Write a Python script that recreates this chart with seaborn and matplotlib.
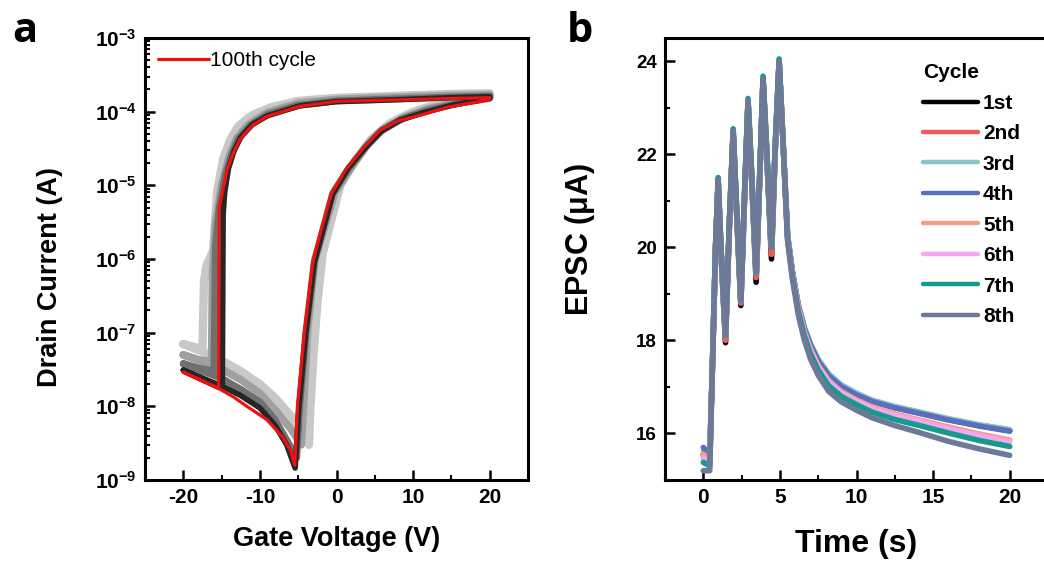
import numpy as np
import matplotlib
matplotlib.use("Agg")
import matplotlib.pyplot as plt
import seaborn as sns
from matplotlib.ticker import MultipleLocator, LogLocator, NullFormatter
from matplotlib.lines import Line2D

# ---------------- panel a: transfer curves (V, A) ----------------
# each loop: forward sweep -20 -> 20, then backward 20 -> -20
v_light = [-20, -17.5, -15, -12.5, -10, -8, -6, -4.5, -3.6, -3.4, -3.0, -2.5, -1.8, 0.5, 2.5, 4.5, 7, 10, 13, 16.5, 20,
           20, 15, 10, 5, 0, -5, -8.5, -11, -12.8, -13.8, -14.8, -15.6, -16.1, -17.0, -17.3, -17.5, -20]
i_light = [7e-8, 5.5e-8, 4.2e-8, 3e-8, 2e-8, 1.3e-8, 7.5e-9, 4.5e-9, 3e-9, 1e-8, 5e-8, 2.5e-7, 1.2e-6, 1e-5, 2.2e-5, 4.2e-5, 7e-5, 1e-4, 1.25e-4, 1.45e-4, 1.6e-4,
           1.78e-4, 1.74e-4, 1.67e-4, 1.6e-4, 1.54e-4, 1.4e-4, 1.15e-4, 9e-5, 6.4e-5, 4.3e-5, 2.3e-5, 8e-6, 1.3e-6, 8e-7, 5e-7, 6e-8, 7e-8]

v_mid1 = [-20, -17.5, -15, -12.5, -10, -8, -6, -4.6, -4.3, -3.8, -2.8, -0.2, 2, 4, 6, 9, 12, 16, 20,
          20, 15, 10, 5, 0, -5, -9, -11.5, -13, -14, -15, -15.8, -16.2, -16.3, -18, -20]
i_mid1 = [5e-8, 4e-8, 3.2e-8, 2.3e-8, 1.5e-8, 9e-9, 5e-9, 3e-9, 1e-8, 1e-7, 1e-6, 8e-6, 1.8e-5, 3.5e-5, 5.7e-5, 8.5e-5, 1.1e-4, 1.35e-4, 1.55e-4,
          1.7e-4, 1.66e-4, 1.6e-4, 1.54e-4, 1.47e-4, 1.3e-4, 9.8e-5, 6.7e-5, 4.4e-5, 2.5e-5, 1e-5, 3e-6, 6e-7, 4e-8, 4.3e-8, 5e-8]

v_mid2 = [-20, -17.5, -15, -12.5, -10, -8, -6.5, -5.2, -4.8, -4.0, -2.9, -0.5, 1.6, 3.8, 5.8, 8.5, 12, 16, 20,
          20, 15, 10, 5, 0, -5, -9, -11.2, -12.8, -13.7, -14.5, -15.3, -15.8, -16.0, -18, -20]
i_mid2 = [3.8e-8, 3e-8, 2.4e-8, 1.7e-8, 1.15e-8, 6.5e-9, 3.5e-9, 2e-9, 1e-8, 1e-7, 9e-7, 7.8e-6, 1.7e-5, 3.3e-5, 5.5e-5, 8e-5, 1.05e-4, 1.3e-4, 1.52e-4,
          1.63e-4, 1.58e-4, 1.52e-4, 1.46e-4, 1.4e-4, 1.22e-4, 9.2e-5, 6.6e-5, 4.3e-5, 2.6e-5, 1.4e-5, 5e-6, 1.5e-6, 3e-8, 3.3e-8, 3.8e-8]

v_dark = [-20, -17.5, -15, -12.5, -10, -8, -6.5, -5.4, -4.9, -4.0, -2.9, -0.5, 1.5, 3.7, 5.8, 8.2, 11.2, 15, 18.5, 20,
          20, 15, 10, 5, 0, -4.8, -9, -11, -12.5, -13.4, -14.1, -14.6, -14.8, -14.9, -17.5, -20]
i_dark = [3.1e-8, 2.4e-8, 1.9e-8, 1.4e-8, 9.5e-9, 5.5e-9, 3e-9, 1.45e-9, 1e-8, 1e-7, 9e-7, 7.6e-6, 1.7e-5, 3.2e-5, 5.4e-5, 7.6e-5, 9.6e-5, 1.22e-4, 1.42e-4, 1.52e-4,
          1.6e-4, 1.55e-4, 1.48e-4, 1.42e-4, 1.37e-4, 1.2e-4, 8.8e-5, 6.7e-5, 4.5e-5, 2.9e-5, 1.7e-5, 8e-6, 4e-6, 1.8e-8, 2.4e-8, 3.1e-8]

v_100 = [-20, -17.5, -15.4, -13.5, -11.7, -9.1, -7, -6, -5.45, -5.1, -4.2, -3.1, -2, -0.7, 1.3, 3.5, 5.7, 8, 11.2, 14.5, 18.5, 20,
         20, 15, 10, 5, 0, -4.8, -9.1, -11, -12.6, -13.5, -14.3, -14.9, -15.3, -15.4, -17.5, -20]
i_100 = [2.9e-8, 2.2e-8, 1.75e-8, 1.35e-8, 1e-8, 6.6e-9, 3.8e-9, 2.5e-9, 1.6e-9, 1e-8, 1e-7, 9e-7, 2.5e-6, 7.6e-6, 1.7e-5, 3.2e-5, 5.6e-5, 7.5e-5, 9.1e-5, 1.15e-4, 1.36e-4, 1.48e-4,
         1.55e-4, 1.51e-4, 1.46e-4, 1.42e-4, 1.38e-4, 1.18e-4, 8.6e-5, 6.5e-5, 4.2e-5, 2.7e-5, 1.6e-5, 8e-6, 5e-6, 1.75e-8, 2.2e-8, 2.9e-8]

gray_loops = [(v_light, i_light), (v_mid1, i_mid1), (v_mid2, i_mid2), (v_dark, i_dark)]
gray_colors = ['#c8c8c8', '#a0a0a0', '#707070', '#262626']
gray_widths = [6.0, 5.5, 5.0, 4.0]

a_yticks = [1e-9, 1e-8, 1e-7, 1e-6, 1e-5, 1e-4, 1e-3]
a_yticklabels = [r'$\mathbf{10^{-9}}$', r'$\mathbf{10^{-8}}$', r'$\mathbf{10^{-7}}$', r'$\mathbf{10^{-6}}$',
                 r'$\mathbf{10^{-5}}$', r'$\mathbf{10^{-4}}$', r'$\mathbf{10^{-3}}$']
a_xticks = [-20, -10, 0, 10, 20]

# ---------------- panel b: EPSC vs time ----------------
t = [0, 0.42, 0.6, 0.8, 0.97, 1.15, 1.45, 1.7, 1.95, 2.15, 2.45, 2.7, 2.92, 3.15, 3.45, 3.7, 3.9, 4.15, 4.45, 4.7, 4.95,
     5.2, 5.5, 5.8, 6.2, 6.6, 7.0, 7.5, 8.2, 9, 10, 11, 12.5, 14, 16, 18, 20]

epsc_1 = [15.55, 15.45, 17.5, 20.0, 21.4, 19.9, 17.95, 20.4, 22.45, 20.9, 18.75, 21.1, 23.1, 21.5, 19.25, 21.6, 23.6, 21.9, 19.75, 22.1, 23.98,
          22.3, 20.25, 19.5, 18.75, 18.25, 17.9, 17.57, 17.25, 17.02, 16.84, 16.7, 16.56, 16.45, 16.3, 16.17, 16.06]
epsc_2 = [15.5, 15.4, 17.5, 20.0, 21.42, 19.95, 18.0, 20.45, 22.47, 20.95, 18.8, 21.15, 23.12, 21.55, 19.35, 21.65, 23.6, 21.95, 19.85, 22.15, 23.99,
          22.3, 20.25, 19.5, 18.75, 18.25, 17.9, 17.57, 17.25, 17.03, 16.85, 16.71, 16.57, 16.46, 16.31, 16.18, 16.08]
epsc_3 = [15.62, 15.5, 17.5, 20.0, 21.43, 20.0, 18.1, 20.5, 22.48, 21.0, 18.85, 21.2, 23.13, 21.6, 19.45, 21.7, 23.61, 22.0, 20.0, 22.2, 24.0,
          22.32, 20.28, 19.53, 18.78, 18.28, 17.93, 17.6, 17.28, 17.05, 16.87, 16.72, 16.58, 16.47, 16.32, 16.19, 16.08]
epsc_4 = [15.7, 15.55, 17.5, 20.0, 21.43, 20.0, 18.1, 20.5, 22.48, 21.0, 18.85, 21.2, 23.13, 21.6, 19.45, 21.7, 23.61, 22.0, 20.0, 22.2, 24.0,
          22.3, 20.25, 19.5, 18.75, 18.25, 17.9, 17.56, 17.24, 17.01, 16.83, 16.69, 16.55, 16.44, 16.29, 16.16, 16.05]
epsc_5 = [15.55, 15.45, 17.5, 20.0, 21.43, 20.0, 18.1, 20.5, 22.48, 21.0, 18.85, 21.2, 23.13, 21.6, 19.45, 21.7, 23.61, 22.0, 20.0, 22.2, 24.0,
          22.3, 20.22, 19.46, 18.7, 18.18, 17.81, 17.46, 17.13, 16.9, 16.72, 16.57, 16.42, 16.3, 16.14, 15.99, 15.86]
epsc_6 = [15.47, 15.4, 17.5, 20.0, 21.43, 20.0, 18.1, 20.5, 22.48, 21.0, 18.85, 21.2, 23.13, 21.6, 19.45, 21.7, 23.61, 22.0, 20.0, 22.2, 24.0,
          22.3, 20.22, 19.45, 18.68, 18.16, 17.78, 17.43, 17.1, 16.87, 16.69, 16.54, 16.39, 16.27, 16.1, 15.95, 15.82]
epsc_7 = [15.38, 15.3, 17.5, 20.05, 21.5, 20.05, 18.1, 20.55, 22.55, 21.05, 18.85, 21.25, 23.2, 21.65, 19.45, 21.75, 23.68, 22.05, 20.0, 22.25, 24.05,
          22.3, 20.2, 19.42, 18.63, 18.1, 17.71, 17.36, 17.02, 16.8, 16.62, 16.46, 16.3, 16.18, 16.01, 15.85, 15.72]
epsc_8 = [15.2, 15.2, 17.5, 20.0, 21.45, 20.0, 18.1, 20.5, 22.5, 21.0, 18.85, 21.2, 23.15, 21.6, 19.45, 21.7, 23.62, 22.0, 20.0, 22.2, 24.0,
          22.3, 20.15, 19.35, 18.55, 18.0, 17.6, 17.25, 16.9, 16.68, 16.5, 16.34, 16.17, 16.03, 15.83, 15.67, 15.53]

cycle_names = ['1st', '2nd', '3rd', '4th', '5th', '6th', '7th', '8th']
cycle_colors = ['#000000', '#f05a5a', '#88c4c8', '#5a6ec0', '#f0a080', '#f4a6f0', '#169a8c', '#6c7a98']
epsc_all = [epsc_1, epsc_2, epsc_3, epsc_4, epsc_5, epsc_6, epsc_7, epsc_8]

b_yticks = [16, 18, 20, 22, 24]
b_xticks = [0, 5, 10, 15, 20]

# ---------------- style ----------------
sns.set_theme(style='ticks')
plt.rcParams['font.family'] = ['Liberation Sans', 'DejaVu Sans']
plt.rcParams['font.weight'] = 'bold'
plt.rcParams['axes.labelweight'] = 'bold'
plt.rcParams['mathtext.fontset'] = 'custom'
plt.rcParams['mathtext.rm'] = 'Liberation Sans'
plt.rcParams['mathtext.bf'] = 'Liberation Sans:bold'
plt.rcParams['axes.unicode_minus'] = False
plt.rcParams['xtick.direction'] = 'in'
plt.rcParams['ytick.direction'] = 'in'
for k in ['text.color', 'axes.labelcolor', 'xtick.color', 'ytick.color', 'xtick.labelcolor', 'ytick.labelcolor']:
    plt.rcParams[k] = 'black'

fig = plt.figure(figsize=(10.44, 5.7), dpi=100)
ax1 = fig.add_axes([145 / 1044, 90 / 570, 383 / 1044, 442 / 570])
ax2 = fig.add_axes([665 / 1044, 90 / 570, 383 / 1044, 442 / 570])


def style_axes(ax):
    for s in ax.spines.values():
        s.set_linewidth(2.2)
        s.set_color('black')
    ax.tick_params(which='major', length=7, width=1.8, color='black', top=False, right=False)
    ax.tick_params(which='minor', length=3.5, width=1.5, color='black', top=False, right=False)


# panel a
for (vv, ii), c, w in zip(gray_loops, gray_colors, gray_widths):
    sns.lineplot(x=vv, y=ii, sort=False, estimator=None, color=c, lw=w, ax=ax1, legend=False)
sns.lineplot(x=v_100, y=i_100, sort=False, estimator=None, color='#ee1111', lw=2.3, ax=ax1, legend=False)
ax1.set_yscale('log')
ax1.set_xlim(-25, 25)
ax1.set_ylim(1e-9, 1e-3)
ax1.set_xticks(a_xticks)
ax1.set_xticklabels([str(x) for x in a_xticks], fontsize=15, fontweight='bold')
ax1.xaxis.set_minor_locator(MultipleLocator(5))
ax1.set_yticks(a_yticks)
ax1.set_yticklabels(a_yticklabels, fontsize=15)
ax1.yaxis.set_minor_locator(LogLocator(base=10, subs=np.arange(2, 10)))
ax1.yaxis.set_minor_formatter(NullFormatter())
style_axes(ax1)
ax1.tick_params(axis='both', which='major', pad=6)
ax1.set_xlabel('Gate Voltage (V)', fontsize=19.5, fontweight='bold')
ax1.set_ylabel('Drain Current (A)', fontsize=19.5, fontweight='bold')
ax1.xaxis.set_label_coords(0.5, -0.105)
ax1.yaxis.set_label_coords(-0.215, 0.46)
leg1 = ax1.legend(handles=[Line2D([], [], color='#ee1111', lw=2.3)], labels=['100th cycle'],
                  loc='upper left', bbox_to_anchor=(-0.008, 1.005), frameon=False,
                  prop={'family': 'Liberation Sans', 'weight': 'normal', 'size': 15},
                  handlelength=2.45, handletextpad=0.05, borderaxespad=0.35)

# panel b
for y, c in zip(epsc_all, cycle_colors):
    sns.lineplot(x=t, y=y, sort=False, estimator=None, color=c, lw=4.0, ax=ax2, legend=False)
ax2.set_xlim(-2.5, 22.5)
ax2.set_ylim(15, 24.5)
ax2.set_xticks(b_xticks)
ax2.set_xticklabels([str(x) for x in b_xticks], fontsize=15, fontweight='bold')
ax2.set_yticks(b_yticks)
ax2.set_yticklabels([str(y) for y in b_yticks], fontsize=13.5, fontweight='bold')
ax2.xaxis.set_minor_locator(MultipleLocator(2.5))
ax2.yaxis.set_minor_locator(MultipleLocator(1))
style_axes(ax2)
ax2.tick_params(axis='both', which='major', pad=6)
ax2.set_xlabel('Time (s)', fontsize=23, fontweight='bold')
ax2.set_ylabel(r'EPSC ($\mathrm{\mu}$A)', fontsize=22, fontweight='bold')
ax2.xaxis.set_label_coords(0.5, -0.11)
ax2.yaxis.set_label_coords(-0.178, 0.545)
handles = [Line2D([], [], color=c, lw=3.2) for c in cycle_colors]
leg2 = ax2.legend(handles=handles, labels=cycle_names, title='Cycle', loc='upper left',
                  bbox_to_anchor=(0.625, 0.985), frameon=False,
                  prop={'size': 15, 'weight': 'bold'}, title_fontproperties={'size': 15, 'weight': 'bold'},
                  handlelength=2.65, handletextpad=0.22, labelspacing=0.55, alignment='left')

fig.text(25 / 1044, 1 - 42 / 570, 'a', fontsize=30, fontweight='bold', ha='center', va='baseline',
         family=['Open Sans', 'DejaVu Sans'])
fig.text(580 / 1044, 1 - 42 / 570, 'b', fontsize=30, fontweight='bold', ha='center', va='baseline',
         family=['Open Sans', 'DejaVu Sans'])

fig.savefig('out.png', dpi=100)
